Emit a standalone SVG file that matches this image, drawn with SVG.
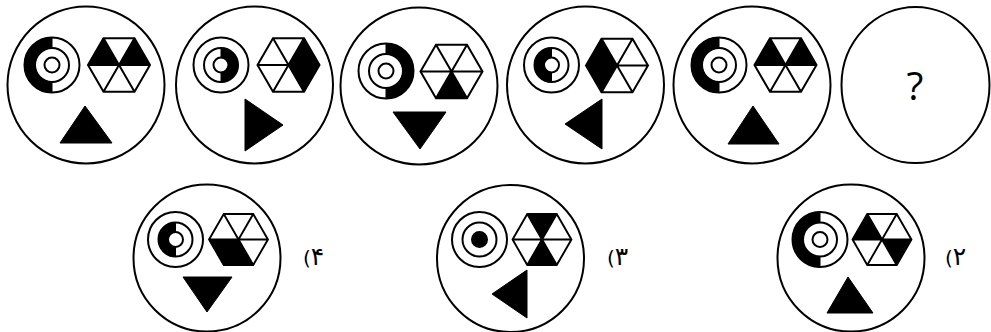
<svg xmlns="http://www.w3.org/2000/svg" xmlns:xlink="http://www.w3.org/1999/xlink" width="991" height="332" viewBox="0 0 991 332">
<style>
.frame{fill:#fff;stroke:#000;stroke-width:2}
.ln{fill:none;stroke:#000;stroke-width:2}
.blk{fill:#000;stroke:#000;stroke-width:1}
.hexbg{fill:#fff}
.lbl{font-family:"DejaVu Sans",sans-serif;font-size:20px;fill:#000;direction:ltr;unicode-bidi:bidi-override}
.dg{font-size:25px}
.q{font-family:"Open Sans",sans-serif;font-size:39px;fill:#000}
</style>
<defs>
<path id="ringOL" class="blk" d="M0,-27.5 A27.5,27.5 0 0 0 0,27.5 L0,17 A17,17 0 0 1 0,-17Z"/>
<path id="ringOR" class="blk" d="M0,-27.5 A27.5,27.5 0 0 1 0,27.5 L0,17 A17,17 0 0 0 0,-17Z"/>
<path id="ringIL" class="blk" d="M0,-17 A17,17 0 0 0 0,17 L0,7.5 A7.5,7.5 0 0 1 0,-7.5Z"/>
<path id="ringIR" class="blk" d="M0,-17 A17,17 0 0 1 0,17 L0,7.5 A7.5,7.5 0 0 0 0,-7.5Z"/>
<g id="rings">
<circle class="ln" r="27.5"/>
<circle class="ln" r="17"/>
<circle class="ln" r="7.5"/>
</g>
<path id="hexbg" class="hexbg" d="M31,0 L15.5,26.85 L-15.5,26.85 L-31,0 L-15.5,-26.85 L15.5,-26.85Z"/>
<path id="hexln" class="ln" d="M31,0 L15.5,26.85 L-15.5,26.85 L-31,0 L-15.5,-26.85 L15.5,-26.85Z M-31,0 L31,0 M-15.5,-26.85 L15.5,26.85 M15.5,-26.85 L-15.5,26.85"/>
<path id="tT" class="blk" d="M0,0 L-15.5,-26.85 L15.5,-26.85Z"/>
<path id="tUR" class="blk" d="M0,0 L15.5,-26.85 L31,0Z"/>
<path id="tLR" class="blk" d="M0,0 L31,0 L15.5,26.85Z"/>
<path id="tB" class="blk" d="M0,0 L15.5,26.85 L-15.5,26.85Z"/>
<path id="tLL" class="blk" d="M0,0 L-15.5,26.85 L-31,0Z"/>
<path id="tUL" class="blk" d="M0,0 L-31,0 L-15.5,-26.85Z"/>
</defs>

<g id="panel-1" transform="translate(86,85)">
<circle class="frame" r="78.5"/>
<g transform="translate(-34,-20)"><use xlink:href="#ringOL"/><use xlink:href="#rings"/></g>
<g transform="translate(33,-20)"><use xlink:href="#hexbg"/><use xlink:href="#tUL"/><use xlink:href="#tUR"/><use xlink:href="#hexln"/></g>
<polygon class="blk" points="-1,21 -26,58 26,58"/>
</g>

<g id="panel-2" transform="translate(254.5,85)">
<circle class="frame" r="78.5"/>
<g transform="translate(-33.5,-20)"><use xlink:href="#ringIR"/><use xlink:href="#rings"/></g>
<g transform="translate(34,-20)"><use xlink:href="#hexbg"/><use xlink:href="#tUR"/><use xlink:href="#tLR"/><use xlink:href="#hexln"/></g>
<polygon class="blk" points="-9.5,14 -9.5,66 28.5,40"/>
</g>

<g id="panel-3" transform="translate(419,86)">
<circle class="frame" r="78.5"/>
<g transform="translate(-33,-15)"><use xlink:href="#ringOR"/><use xlink:href="#rings"/></g>
<g transform="translate(32.5,-14.5)"><use xlink:href="#hexbg"/><use xlink:href="#tB"/><use xlink:href="#hexln"/></g>
<polygon class="blk" points="-26,26 27,26 1,63"/>
</g>

<g id="panel-4" transform="translate(585.5,85)">
<circle class="frame" r="78.5"/>
<g transform="translate(-34,-20)"><use xlink:href="#ringIL"/><use xlink:href="#rings"/></g>
<g transform="translate(31.5,-19.5)"><use xlink:href="#hexbg"/><use xlink:href="#tUL"/><use xlink:href="#tLL"/><use xlink:href="#hexln"/></g>
<polygon class="blk" points="-20.5,39 16.5,14 16.5,64"/>
</g>

<g id="panel-5" transform="translate(752,85)">
<circle class="frame" r="78.5"/>
<g transform="translate(-33,-20)"><use xlink:href="#ringOL"/><use xlink:href="#rings"/></g>
<g transform="translate(33.5,-20)"><use xlink:href="#hexbg"/><use xlink:href="#tUL"/><use xlink:href="#tUR"/><use xlink:href="#hexln"/></g>
<polygon class="blk" points="1,21 -24,59 27,59"/>
</g>

<g id="panel-6">
<ellipse class="frame" cx="915.5" cy="85" rx="74" ry="78"/>
<text class="q" x="915" y="100" text-anchor="middle">?</text>
</g>

<g id="option-4">
<g transform="translate(207,258)">
<circle class="frame" r="73.5"/>
<g transform="translate(-31.5,-18.5)"><use xlink:href="#ringIL"/><use xlink:href="#rings"/></g>
<g transform="translate(31.5,-18.5) scale(0.95)"><use xlink:href="#hexbg"/><use xlink:href="#tLL"/><use xlink:href="#tB"/><use xlink:href="#hexln"/></g>
<polygon class="blk" points="-24,19 25,19 0,54"/>
</g>
<text class="lbl" x="303" y="265">(<tspan class="dg">۴</tspan></text>
</g>

<g id="option-3">
<g transform="translate(510.5,258.5)">
<circle class="frame" r="73.5"/>
<g transform="translate(-31,-19)"><use xlink:href="#rings"/><circle class="blk" r="6.5"/></g>
<g transform="translate(31.5,-19) scale(0.95)"><use xlink:href="#hexbg"/><use xlink:href="#tT"/><use xlink:href="#tB"/><use xlink:href="#hexln"/></g>
<polygon class="blk" points="-18.5,35.5 16.5,11.5 16.5,59.5"/>
</g>
<text class="lbl" x="607" y="265">(<tspan class="dg">۳</tspan></text>
</g>

<g id="option-2">
<g transform="translate(851,258)">
<circle class="frame" r="73.5"/>
<g transform="translate(-31,-18.5)"><use xlink:href="#ringOL"/><use xlink:href="#rings"/></g>
<g transform="translate(31,-18.5) scale(0.95)"><use xlink:href="#hexbg"/><use xlink:href="#tUL"/><use xlink:href="#tLR"/><use xlink:href="#hexln"/></g>
<polygon class="blk" points="-3,19 -24,55 22,55"/>
</g>
<text class="lbl" x="945" y="265">(<tspan class="dg">۲</tspan></text>
</g>
</svg>
